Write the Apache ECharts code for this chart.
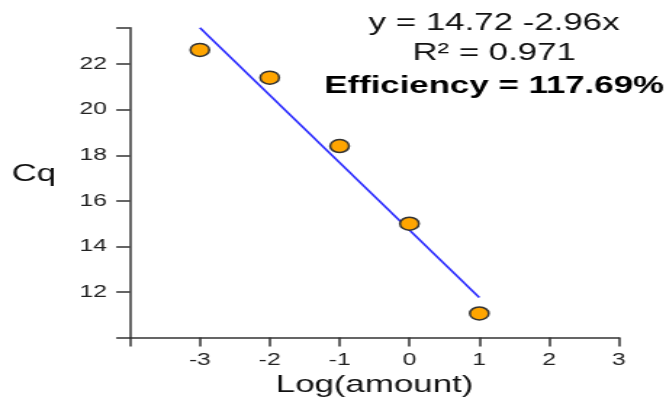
<!DOCTYPE html>
<html>
<head>
<meta charset="utf-8">
<script src="https://cdn.jsdelivr.net/npm/echarts@6/dist/echarts.min.js"></script>
<style>
  html, body { margin: 0; padding: 0; background: #fff; overflow: hidden; }
  #wrap { width: 666px; height: 398px; overflow: hidden; }
  #c { width: 459px; height: 398px; transform: scaleX(1.451); transform-origin: 0 0; }
</style>
</head>
<body>
<div id="wrap"><div id="c"></div></div>
<script>
// ---- data ----
const logAmount = [-3, -2, -1, 0, 1];
const cqValues  = [22.63, 21.41, 18.41, 15.0, 11.06];
const fitX = [-3, 1];
const fitY = [23.6, 11.76];
const xTickLabels = [-3, -2, -1, 0, 1, 2, 3];
const yTickLabels = [12, 14, 16, 18, 20, 22];
const annotationLines = ['y = 14.72 -2.96x', 'R\u00b2 = 0.971', 'Efficiency = 117.69%'];
const xAxisTitle = 'Log(amount)';
const yAxisTitle = 'Cq';

const FONT = '"Liberation Sans", Arial, sans-serif';
const chart = echarts.init(document.getElementById('c'));

const scatterData = logAmount.map((x, i) => [x, cqValues[i]]);
const fitData = fitX.map((x, i) => [x, fitY[i]]);

chart.setOption({
  animation: false,
  backgroundColor: '#fff',
  grid: { left: 89.6, right: 32.4, top: 27.8, bottom: 60.4, containLabel: false, outerBoundsMode: 'none' },
  xAxis: {
    type: 'value', min: -4, max: 3, interval: 1,
    name: xAxisTitle, nameLocation: 'middle', nameGap: 33,
    nameTextStyle: { fontFamily: FONT, fontSize: 24, color: '#111' },
    axisLine: { show: true, onZero: false, lineStyle: { color: '#333', width: 1.5 } },
    axisTick: { show: true, length: 9, lineStyle: { color: '#333', width: 1.5 } },
    axisLabel: {
      margin: 14, fontFamily: FONT, fontSize: 17, color: '#222',
      formatter: v => xTickLabels.includes(v) ? String(v) : ''
    },
    splitLine: { show: false }
  },
  yAxis: {
    type: 'value', min: 10, max: 23.6, interval: 2,
    name: yAxisTitle, nameLocation: 'middle', nameGap: 51, nameRotate: 0,
    nameTextStyle: { fontFamily: FONT, fontSize: 24, color: '#111', verticalAlign: 'bottom', lineHeight: 16 },
    axisLine: { show: true, onZero: false, lineStyle: { color: '#333', width: 1.5 } },
    axisTick: { show: true, length: 9.5, lineStyle: { color: '#333', width: 1.5 } },
    axisLabel: {
      margin: 16, fontFamily: FONT, fontSize: 17, color: '#222',
      formatter: v => yTickLabels.includes(v) ? String(v) : ''
    },
    splitLine: { show: false }
  },
  series: [
    {
      type: 'line', data: fitData, symbol: 'none',
      lineStyle: { color: '#2a2aff', width: 1.6 }, z: 2
    },
    {
      type: 'scatter', data: scatterData, symbol: 'circle', symbolSize: 13,
      itemStyle: { color: '#ffa500', borderColor: '#333', borderWidth: 1.5, opacity: 1 }, z: 3
    }
  ],
  graphic: [
    { type: 'text', x: 340.5, y: 23,
      style: { text: annotationLines[0], fontFamily: FONT, fontSize: 24, fill: '#111', textAlign: 'center', textVerticalAlign: 'middle' } },
    { type: 'text', x: 340.5, y: 53,
      style: { text: annotationLines[1], fontFamily: FONT, fontSize: 24, fill: '#111', textAlign: 'center', textVerticalAlign: 'middle' } },
    { type: 'text', x: 340.5, y: 86.5,
      style: { text: annotationLines[2], fontFamily: FONT, fontSize: 24, fontWeight: 'bold', fill: '#000', textAlign: 'center', textVerticalAlign: 'middle' } }
  ]
});
</script>
</body>
</html>
